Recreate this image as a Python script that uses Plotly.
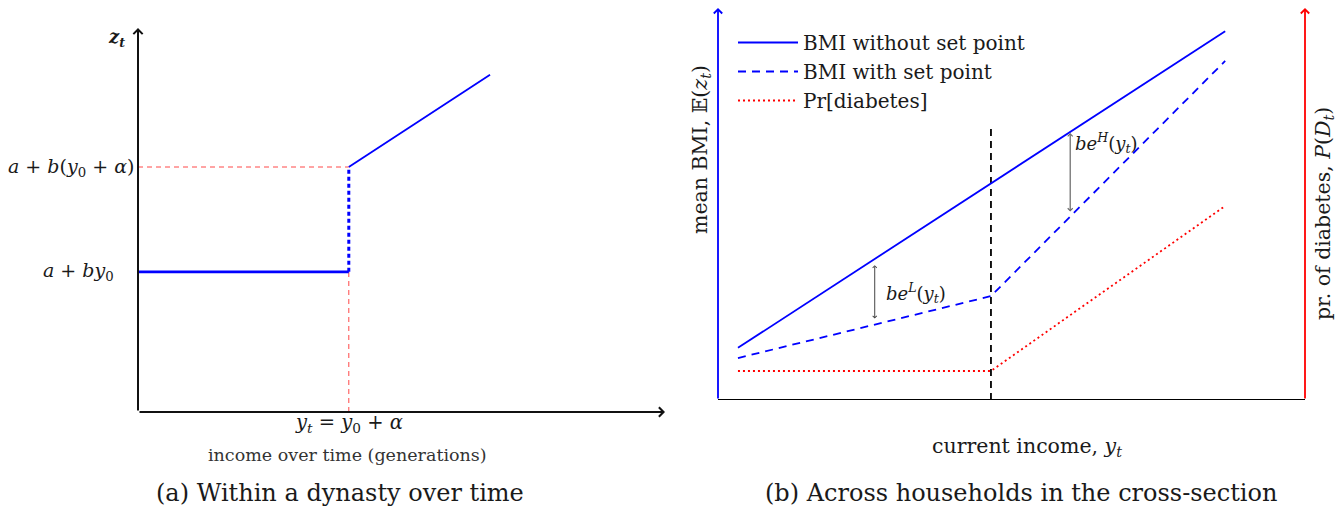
import plotly.graph_objects as go

W, H = 1337, 510
def pxx(p):
    return p / W
def pxy(p):
    return 1 - p / H

FONT = "DejaVu Serif"
TXT = "#1a1a1a"

# ---------- Panel (a): within a dynasty over time ----------
gen_x_base = [0, 4]
gen_z_base = [3.65, 3.65]
gen_x_jump = [4, 4]
gen_z_jump = [3.65, 6.38]
gen_x_rise = [4, 6.68]
gen_z_rise = [6.38, 8.78]
a_xmax, a_zmax = 10, 10

# ---------- Panel (b): across households ----------
income_solid = [0.34, 8.64]
bmi_no_setpoint = [1.33, 9.41]
income_kinked = [0.34, 4.65, 8.64]
bmi_setpoint = [1.07, 2.65, 8.65]
pr_diabetes = [0.74, 0.74, 4.95]
income_threshold = 4.65
threshold_top = 6.96
gap_low = [2.67, 2.04, 3.44]    # x, bottom, top
gap_high = [6.0, 4.77, 6.81]
b_xmax, b_ymax = 10, 10

legend_names = ["BMI without set point", "BMI with set point", "Pr[diabetes]"]

fig = go.Figure()

# panel (a) traces
fig.add_trace(go.Scatter(x=[0, gen_x_jump[0]], y=[gen_z_jump[1]] * 2, mode="lines",
                         line=dict(color="rgba(255,40,40,0.85)", width=1, dash="5px,4px"),
                         xaxis="x", yaxis="y", showlegend=False))
fig.add_trace(go.Scatter(x=gen_x_jump, y=[0, gen_z_base[0]], mode="lines",
                         line=dict(color="rgba(255,40,40,0.85)", width=1, dash="5px,4px"),
                         xaxis="x", yaxis="y", showlegend=False))
fig.add_trace(go.Scatter(x=gen_x_base, y=gen_z_base, mode="lines",
                         line=dict(color="#0000ff", width=2.6),
                         xaxis="x", yaxis="y", showlegend=False))
fig.add_trace(go.Scatter(x=gen_x_jump, y=gen_z_jump, mode="lines",
                         line=dict(color="#0000ff", width=3, dash="4px,3px"),
                         xaxis="x", yaxis="y", showlegend=False))
fig.add_trace(go.Scatter(x=gen_x_rise, y=gen_z_rise, mode="lines",
                         line=dict(color="#0000ff", width=1.8),
                         xaxis="x", yaxis="y", showlegend=False))

# panel (b) traces
fig.add_trace(go.Scatter(x=[income_threshold, income_threshold], y=[0, threshold_top], mode="lines",
                         line=dict(color="black", width=1.8, dash="7px,5px"),
                         xaxis="x2", yaxis="y2", showlegend=False))
fig.add_trace(go.Scatter(x=income_solid, y=bmi_no_setpoint, mode="lines", name=legend_names[0],
                         line=dict(color="#0000ff", width=1.8),
                         xaxis="x2", yaxis="y2"))
fig.add_trace(go.Scatter(x=income_kinked, y=bmi_setpoint, mode="lines", name=legend_names[1],
                         line=dict(color="#0000ff", width=1.8, dash="8px,6px"),
                         xaxis="x2", yaxis="y2"))
fig.add_trace(go.Scatter(x=income_kinked, y=pr_diabetes, mode="lines", name=legend_names[2],
                         line=dict(color="#ff0000", width=1.8, dash="2px,3px"),
                         xaxis="x2", yaxis="y3"))

ann = []

def arrow(x, y, ax, ay, xr, yr, color, width=2, both=False, head=4, size=1.0):
    d = dict(x=x, y=y, ax=ax, ay=ay, xref=xr, yref=yr, axref=xr, ayref=yr,
             text="", showarrow=True, arrowhead=head, arrowsize=size,
             arrowwidth=width, arrowcolor=color)
    if both:
        d.update(arrowside="end+start", startarrowhead=head, startarrowsize=size)
    ann.append(d)

# panel (a) axes
arrow(0, a_zmax, 0, 0, "x", "y", "#111", width=2, head=4, size=0.9)
arrow(a_xmax, 0, 0, 0, "x", "y", "#111", width=2, head=4, size=0.9)

# panel (b) axes
arrow(0, b_ymax, 0, 0, "x2", "y2", "#0000ff", width=1.8, head=4, size=0.9)
arrow(b_xmax, b_ymax, b_xmax, 0, "x2", "y3", "#ff0000", width=1.8, head=4, size=0.9)
# gap arrows
arrow(gap_low[0], gap_low[2], gap_low[0], gap_low[1], "x2", "y2", "#444", width=1, both=True, head=4, size=0.8)
arrow(gap_high[0], gap_high[2], gap_high[0], gap_high[1], "x2", "y2", "#666", width=1.2, both=True, head=4, size=0.8)

def text(t, x, y, xr="paper", yr="paper", size=18, xa="center", ya="middle", angle=0, color=TXT):
    ann.append(dict(text=t, x=x, y=y, xref=xr, yref=yr, xanchor=xa, yanchor=ya,
                    showarrow=False, textangle=angle,
                    font=dict(family=FONT, size=size, color=color)))

# panel (a) labels
text("<b><i>z</i><sub><i>t</i></sub></b>", pxx(127), pxy(38), xa="right", size=18)
text("<i>a</i> + <i>b</i>(<i>y</i><sub>0</sub> + <i>α</i>)", pxx(136), gen_z_jump[1], yr="y", xa="right", size=19)
text("<i>a</i> + <i>by</i><sub>0</sub>", pxx(116), gen_z_base[0], yr="y", xa="right", size=19)
text("<i>y</i><sub><i>t</i></sub> = <i>y</i><sub>0</sub> + <i>α</i>", gen_x_jump[0], pxy(423), xr="x", size=19.5)
text("income over time (generations)", pxx(347), pxy(455), size=17.5, color="#333")
text("(a) Within a dynasty over time", pxx(340), pxy(493), size=24)

# panel (b) labels
text("mean BMI, 𝔼(<i>z</i><sub><i>t</i></sub>)", pxx(701), pxy(150), angle=-90, size=20.5)
text("pr. of diabetes, <i>P</i>(<i>D</i><sub><i>t</i></sub>)", pxx(1324), pxy(214), angle=-90, size=20.5)
text("current income, <i>y</i><sub><i>t</i></sub>", pxx(1027), pxy(447), size=20.5)
text("(b) Across households in the cross-section", pxx(1021), pxy(493), size=24)
text("<i>be</i><sup><i>L</i></sup>(<i>y</i><sub><i>t</i></sub>)", gap_low[0] + 0.15, (gap_low[1] + gap_low[2]) / 2,
     xr="x2", yr="y2", xa="left", size=18)
text("<i>be</i><sup><i>H</i></sup>(<i>y</i><sub><i>t</i></sub>)", gap_high[0] + 0.05, gap_high[2] - 0.25,
     xr="x2", yr="y2", xa="left", size=18)

fig.update_layout(
    width=W, height=H,
    margin=dict(l=0, r=0, t=0, b=0),
    paper_bgcolor="white", plot_bgcolor="white",
    showlegend=True,
    legend=dict(x=pxx(733), y=pxy(23), xanchor="left", yanchor="top",
                bgcolor="rgba(0,0,0,0)", itemwidth=60,
                font=dict(family=FONT, size=20, color=TXT), tracegroupgap=0),
    xaxis=dict(domain=[pxx(138), pxx(665)], range=[0, a_xmax], visible=False, fixedrange=True),
    yaxis=dict(domain=[pxy(412), pxy(28)], range=[0, a_zmax], visible=False, fixedrange=True),
    xaxis2=dict(domain=[pxx(718), pxx(1305)], range=[0, b_xmax], visible=False, fixedrange=True, anchor="y2"),
    yaxis2=dict(domain=[pxy(400), pxy(8)], range=[0, b_ymax], visible=False, fixedrange=True, anchor="x2"),
    yaxis3=dict(domain=[pxy(400), pxy(8)], range=[0, b_ymax], visible=False, fixedrange=True,
                overlaying="y2", side="right", anchor="x2"),
    annotations=ann,
    shapes=[dict(type="line", xref="x2", yref="y2", x0=0, x1=b_xmax, y0=0, y1=0,
                 line=dict(color="black", width=2))],
)

fig.write_html("out.html", config={"displayModeBar": False},
               post_script="document.body.style.margin='0';")
